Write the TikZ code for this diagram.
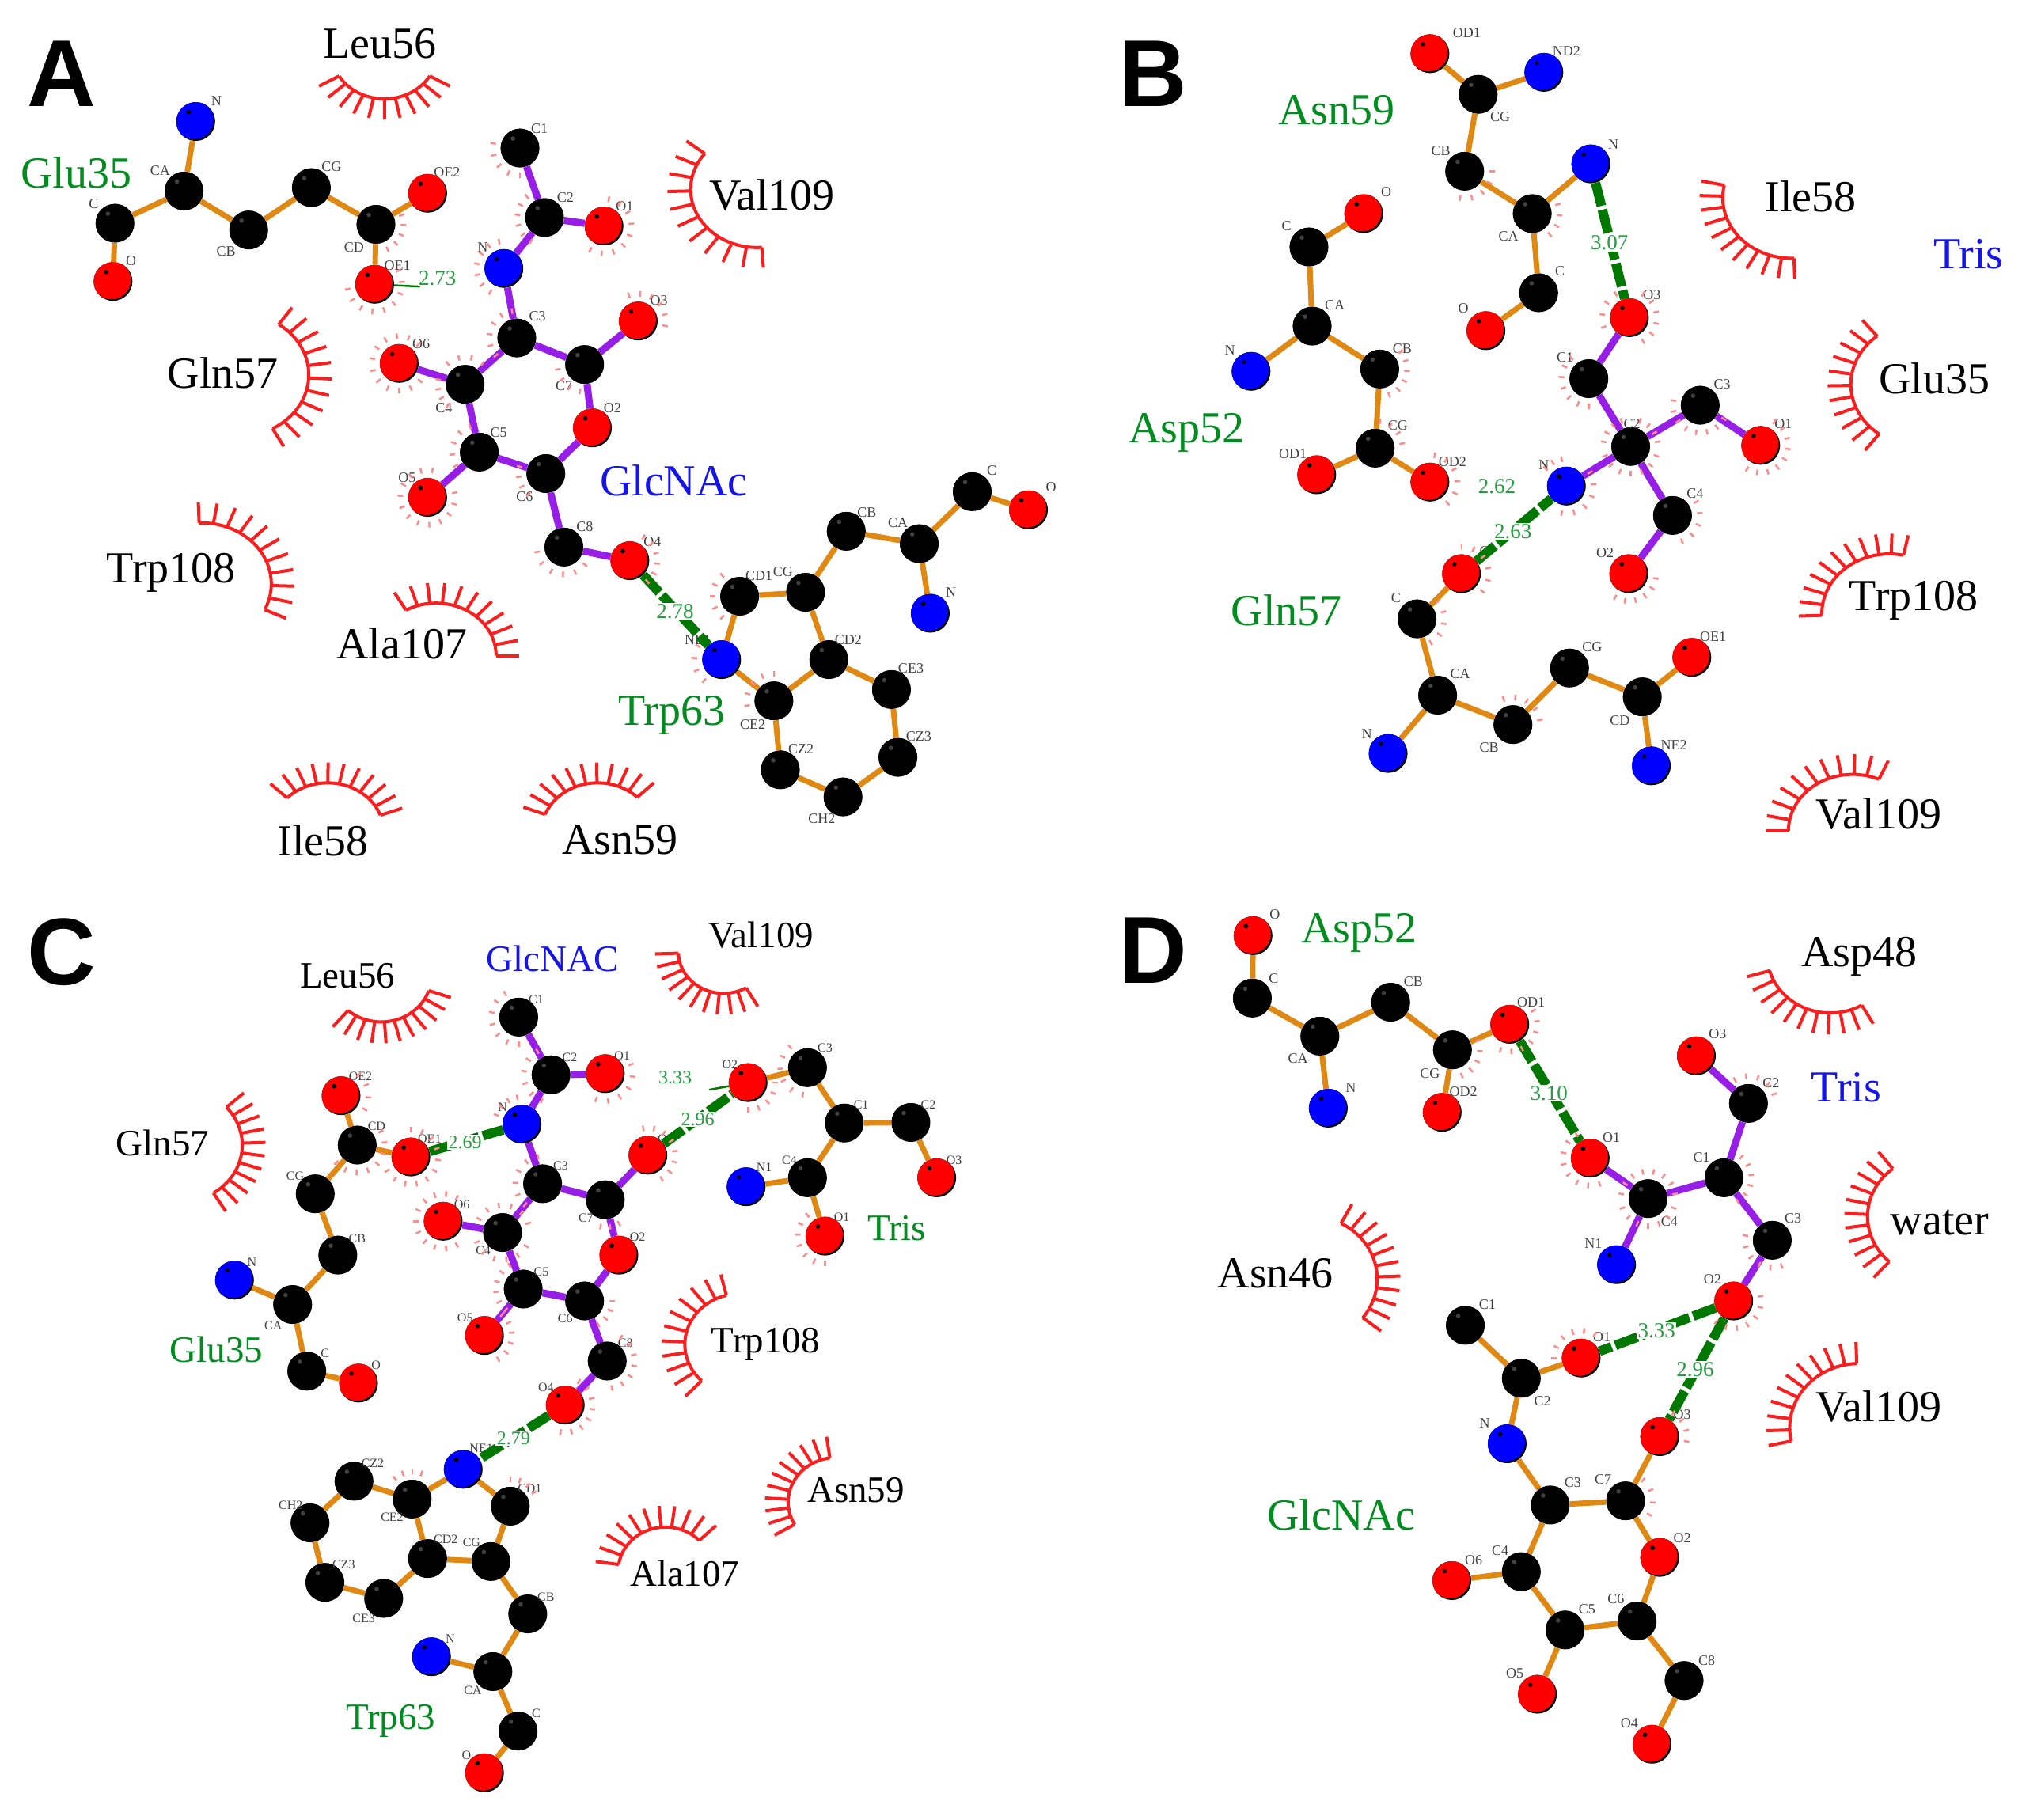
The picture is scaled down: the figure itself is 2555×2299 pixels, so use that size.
\documentclass[tikz,border=0pt]{standalone}
\usepackage{fontspec}
\setmainfont{Liberation Serif}
\newfontfamily\panelfont{Liberation Sans}
\usepackage{tikz}
\usepackage{xcolor}
\usetikzlibrary{
    calc,
    positioning
}
\definecolor{resgreen}{RGB}{0,140,30}
\definecolor{resblue}{RGB}{20,20,235}
\definecolor{bondorange}{RGB}{224,136,20}
\definecolor{bondpurple}{RGB}{150,30,230}
\definecolor{hgreen}{RGB}{0,120,0}
\definecolor{lashred}{RGB}{250,30,30}
\tikzset{
    ball/.style 2 args={circle, inner sep=0pt, minimum size=49pt, fill=black, path picture={
        \fill[#1] ([shift={(-2pt,2pt)}]path picture bounding box.center) circle (24.5pt);
        \fill[#2] ([shift={(-9pt,12pt)}]path picture bounding box.center) circle (2.8pt);}},
    cball/.style={ball={black}{black!75}},
    oball/.style={ball={red}{black}},
    nball/.style={ball={blue}{black}},
    tagfont/.style={font=\fontsize{18}{20}\selectfont},
    resfont/.style={font=\fontsize{56}{60}\selectfont},
    hfont/.style={font=\fontsize{27}{29}\selectfont},
    tag/.style={tagfont, text=black!75, inner sep=0pt},
    res/.style={resfont, inner sep=0pt},
    contact/.style={res, text=black},
    hres/.style={res, text=resgreen},
    lig/.style={res, text=resblue},
    panel/.style={font=\panelfont\bfseries\fontsize{120}{120}\selectfont, inner sep=0pt},
    chain/.style={draw=bondorange, line width=7pt},
    ligand/.style={draw=bondpurple, line width=9pt},
    hbond/.style={draw=hgreen, line width=12pt, dash pattern=on 30pt off 5pt},
    hstub/.style={draw=hgreen, line width=2.5pt},
    hlabel/.style={hfont, text=resgreen!85!white, fill=white, inner sep=1.5pt},
    hplain/.style={hfont, text=resgreen!85!white, inner sep=0pt},
    lashline/.style={draw=lashred, line width=4pt, line join=miter},
    tick/.style={draw=red!45, line width=2.5pt}
}
% ball with its small tag
\newcommand{\atom}[5]{\node[#1] (#2) at (#3) {}; \node[tag] (#2t) at (#4) {#5};}
% contact arc: cx, cy, middle angle, half span, radius
\newcommand{\lash}[5]{
    \pgfmathsetmacro\lashfrom{#3-#4}
    \pgfmathsetmacro\lashto{#3+#4}
    \draw[lashline] plot[domain=\lashfrom:\lashto, samples=25, variable=\t] ({#1+#5*cos(\t)},{#2+#5*sin(\t)});
    \foreach \i in {0,...,10} {
        \pgfmathsetmacro\ang{#3-#4+\i*2*#4/10}
        \draw[lashline] ({#1+#5*cos(\ang)},{#2+#5*sin(\ang)}) -- ({#1+(#5+36)*cos(\ang)},{#2+(#5+36)*sin(\ang)});
    }
}
% short ticks round a ball: name/from/to
\newcommand{\glow}[1]{
    \foreach \nm/\from/\to in {#1} {
        \pgfmathtruncatemacro\cnt{max(1,round((\to-\from)/24))}
        \foreach \i in {0,...,\cnt} {
            \pgfmathsetmacro\ang{\from+\i*(\to-\from)/\cnt}
            \draw[tick] ([shift={(\ang:31pt)}]\nm.center) -- ([shift={(\ang:38pt)}]\nm.center);
        }
    }
}
\begin{document}
\begin{tikzpicture}
    \useasboundingbox (0pt,0pt) rectangle (2555pt,-2299pt);

    % panel A
    \begin{scope}[x=0.8163pt, y=-0.7143pt]
        \node[panel] (apanel) at (95,130) {A};
        \node[contact] (aLeu) at (588,78) {Leu56};
        \node[contact] (aVal) at (1195,345) {Val109};
        \node[contact] (aGln) at (345,660) {Gln57};
        \node[contact] (aTrpb) at (265,1013) {Trp108};
        \node[contact] (aAla) at (622,1138) {Ala107};
        \node[contact] (aIle) at (500,1487) {Ile58};
        \node[contact] (aAsn) at (960,1485) {Asn59};
        \node[hres] (aGlu) at (118,305) {Glu35};
        \node[hres] (aTrp) at (1040,1265) {Trp63};
        \node[lig] (aGlc) at (1043,850) {GlcNAc};
        \lash{595}{94}{90}{60}{81}
        \lash{1172}{335}{152}{66}{103}
        \lash{369}{663}{3}{58}{109}
        \lash{312}{1033}{-33.5}{58.5}{108}
        \lash{675}{1160}{300}{60}{93}
        \lash{507}{1472}{282}{58}{87}
        \lash{925}{1472}{258}{57}{87}

        \atom{nball}{aN}{303,215}{335,178}{N}
        \atom{cball}{aCA}{285,338}{248,302}{CA}
        \atom{cball}{aC}{178,395}{145,360}{C}
        \atom{oball}{aO}{175,498}{203,462}{O}
        \atom{cball}{aCB}{385,407}{350,445}{CB}
        \atom{cball}{aCG}{482,332}{513,295}{CG}
        \atom{cball}{aCD}{582,397}{548,437}{CD}
        \atom{oball}{aOEb}{662,342}{692,305}{OE2}
        \atom{oball}{aOEa}{580,503}{615,470}{OE1}
        \draw[chain] (aN) edge (aCA) (aCA) edge (aC) (aC) edge (aO) (aCA) edge (aCB)
            (aCB) edge (aCG) (aCG) edge (aCD) (aCD) edge (aOEb) (aCD) edge (aOEa);

        \atom{cball}{agA}{805,262}{835,227}{C1}
        \atom{cball}{agB}{843,385}{875,350}{C2}
        \atom{oball}{agOA}{935,400}{967,365}{O1}
        \atom{nball}{agN}{780,475}{747,437}{N}
        \atom{cball}{agC}{800,598}{832,560}{C3}
        \atom{cball}{agG}{905,645}{873,682}{C7}
        \atom{oball}{agOC}{988,568}{1020,532}{O3}
        \atom{oball}{agOB}{917,757}{948,722}{O2}
        \atom{cball}{agF}{845,838}{812,878}{C6}
        \atom{cball}{agE}{742,800}{772,765}{C5}
        \atom{cball}{agD}{720,680}{687,722}{C4}
        \atom{oball}{agOF}{618,643}{652,608}{O6}
        \atom{oball}{agOE}{662,880}{630,845}{O5}
        \atom{cball}{agH}{873,968}{905,932}{C8}
        \atom{oball}{agOD}{975,992}{1010,958}{O4}
        \draw[ligand] (agA) edge (agB) (agB) edge (agOA) (agB) edge (agN) (agN) edge (agC)
            (agC) edge (agG) (agG) edge (agOC) (agG) edge (agOB) (agOB) edge (agF)
            (agF) edge (agE) (agE) edge (agD) (agD) edge (agC) (agD) edge (agOF)
            (agE) edge (agOE) (agF) edge (agH) (agH) edge (agOD);

        \atom{nball}{atNE}{1117,1167}{1080,1132}{NE1}
        \atom{cball}{atCDa}{1145,1055}{1175,1018}{CD1}
        \atom{cball}{atCG}{1247,1048}{1212,1012}{CG}
        \atom{cball}{atCDb}{1283,1167}{1313,1132}{CD2}
        \atom{cball}{atCEc}{1380,1220}{1410,1183}{CE3}
        \atom{cball}{atCZc}{1390,1340}{1422,1303}{CZ3}
        \atom{cball}{atCH}{1305,1410}{1272,1448}{CH2}
        \atom{cball}{atCZb}{1208,1362}{1240,1325}{CZ2}
        \atom{cball}{atCEb}{1198,1240}{1165,1282}{CE2}
        \atom{cball}{atCB}{1310,940}{1342,907}{CB}
        \atom{cball}{atCA}{1423,962}{1390,925}{CA}
        \atom{cball}{atC}{1505,870}{1535,833}{C}
        \atom{oball}{atO}{1592,902}{1627,862}{O}
        \atom{nball}{atN}{1440,1085}{1472,1048}{N}
        \draw[chain] (atNE) edge (atCDa) (atCDa) edge (atCG) (atCG) edge (atCDb) (atCDb) edge (atCEb)
            (atCEb) edge (atNE) (atCDb) edge (atCEc) (atCEc) edge (atCZc) (atCZc) edge (atCH)
            (atCH) edge (atCZb) (atCZb) edge (atCEb) (atCG) edge (atCB) (atCB) edge (atCA)
            (atCA) edge (atC) (atC) edge (atO) (atCA) edge (atN);

        \coordinate (aHend) at (650,507);
        \draw[hstub] (aOEa) -- (aHend);
        \node[hplain] (aHa) at (677,492) {2.73};
        \draw[hbond] (agOD) -- (atNE);
        \node[hlabel] (aHb) at (1045,1082) {2.78};
        \glow{aCD/-65/20, aOEa/-170/30, agA/170/270, agB/130/240, agOA/-120/80, agN/100/240,
            agC/100/220, agG/190/260, agOC/-10/110, agOF/45/320, agD/50/130, agD/170/230,
            agE/110/210, agOE/80/370, agF/165/230, agH/190/320, agOD/-50/60, atNE/150/230,
            atCDa/130/230, atCEb/90/190}
    \end{scope}

    % panel B
    \begin{scope}[shift={(1280pt,0pt)}, x=0.8131pt, y=-0.7143pt]
        \node[panel] (bpanel) at (217,130) {B};
        \node[hres] (bAsn) at (503,195) {Asn59};
        \node[hres] (bAsp) at (270,765) {Asp52};
        \node[hres] (bGln) at (425,1080) {Gln57};
        \node[contact] (bIle) at (1240,348) {Ile58};
        \node[lig] (bTris) at (1485,450) {Tris};
        \node[contact] (bGlu) at (1432,670) {Glu35};
        \node[contact] (bTrp) at (1400,1062) {Trp108};
        \node[contact] (bVal) at (1345,1440) {Val109};
        \lash{1210}{350}{140}{52}{107}
        \lash{1412}{680}{179}{52}{110}
        \lash{1362}{1085}{230}{52}{105}
        \lash{1305}{1470}{237}{57}{100}

        \atom{oball}{bnOD}{648,95}{705,58}{OD1}
        \atom{cball}{bnCG}{723,167}{757,207}{CG}
        \atom{nball}{bnND}{825,128}{860,90}{ND2}
        \atom{cball}{bnCB}{702,303}{665,267}{CB}
        \atom{cball}{bnCA}{807,378}{770,418}{CA}
        \atom{nball}{bnN}{898,290}{933,255}{N}
        \atom{cball}{bnC}{817,518}{850,480}{C}
        \atom{oball}{bnO}{735,585}{700,545}{O}
        \draw[chain] (bnOD) edge (bnCG) (bnCG) edge (bnND) (bnCG) edge (bnCB) (bnCB) edge (bnCA)
            (bnCA) edge (bnN) (bnCA) edge (bnC) (bnC) edge (bnO);

        \atom{cball}{bdC}{460,437}{425,400}{C}
        \atom{oball}{bdO}{545,378}{580,340}{O}
        \atom{cball}{bdCA}{465,577}{500,540}{CA}
        \atom{nball}{bdN}{370,657}{337,620}{N}
        \atom{cball}{bdCB}{570,653}{605,617}{CB}
        \atom{cball}{bdCG}{563,793}{598,753}{CG}
        \atom{oball}{bdODa}{472,840}{435,803}{OD1}
        \atom{oball}{bdODb}{648,853}{683,817}{OD2}
        \draw[chain] (bdC) edge (bdO) (bdC) edge (bdCA) (bdCA) edge (bdN) (bdCA) edge (bdCB)
            (bdCB) edge (bdCG) (bdCG) edge (bdODa) (bdCG) edge (bdODb);

        \atom{oball}{btOC}{958,562}{993,522}{O3}
        \atom{cball}{btA}{895,670}{858,632}{C1}
        \atom{cball}{btB}{960,790}{962,750}{C2}
        \atom{cball}{btC}{1068,717}{1102,680}{C3}
        \atom{oball}{btOA}{1162,788}{1197,750}{O1}
        \atom{nball}{btN}{860,860}{825,823}{N}
        \atom{cball}{btD}{1025,912}{1060,873}{C4}
        \atom{oball}{btOB}{957,1015}{920,978}{O2}
        \draw[ligand] (btOC) edge (btA) (btA) edge (btB) (btB) edge (btC) (btC) edge (btOA)
            (btB) edge (btN) (btB) edge (btD) (btD) edge (btOB);

        \atom{oball}{bqO}{697,1015}{733,975}{O}
        \atom{cball}{bqC}{628,1095}{595,1058}{C}
        \atom{cball}{bqCA}{660,1230}{695,1192}{CA}
        \atom{nball}{bqN}{583,1333}{550,1298}{N}
        \atom{cball}{bqCB}{777,1282}{740,1322}{CB}
        \atom{cball}{bqCG}{865,1182}{900,1145}{CG}
        \atom{cball}{bqCD}{978,1233}{943,1275}{CD}
        \atom{oball}{bqOE}{1055,1163}{1088,1127}{OE1}
        \atom{nball}{bqNE}{992,1355}{1027,1318}{NE2}
        \draw[chain] (bqO) edge (bqC) (bqC) edge (bqCA) (bqCA) edge (bqN) (bqCA) edge (bqCB)
            (bqCB) edge (bqCG) (bqCG) edge (bqCD) (bqCD) edge (bqOE) (bqCD) edge (bqNE);

        \draw[hbond] (bnN) -- (btOC);
        \node[hlabel] (bHa) at (927,430) {3.07};
        \draw[hbond] (bqO) -- (btN);
        \node[hlabel] (bHb) at (777,940) {2.63};
        \node[hplain] (bHc) at (752,860) {2.62};
        \glow{bnCB/-100/0, bnCA/-50/20, bdCB/-70/40, bdCG/10/80, bdODb/-50/80, btOC/-60/60,
            btOC/120/200, btA/130/270, btB/10/70, btB/110/170, btB/200/340, btC/170/330, btOA/-120/60,
            btN/-100/30, btN/100/140, btD/-70/30, btOB/-120/-10, bqO/-40/90, bqC/-60/40,
            bqCB/10/110}
    \end{scope}

    % panel C
    \begin{scope}[shift={(0pt,-1120pt)}, x=0.8163pt, y=-0.7519pt,
            resfont/.style={font=\fontsize{47}{50}\selectfont},
            tagfont/.style={font=\fontsize{16}{18}\selectfont},
            hfont/.style={font=\fontsize{24}{26}\selectfont}]
        \node[panel] (cpanel) at (95,110) {C};
        \node[contact] (cLeu) at (538,150) {Leu56};
        \node[lig] (cGlc) at (855,122) {GlcNAC};
        \node[contact] (cVal) at (1178,82) {Val109};
        \node[contact] (cGln) at (252,432) {Gln57};
        \node[hres] (cGlu) at (335,778) {Glu35};
        \node[hres] (cTris) at (1388,575) {Tris};
        \node[contact] (cTrpb) at (1185,770) {Trp108};
        \node[contact] (cAsn) at (1325,1015) {Asn59};
        \node[contact] (cAla) at (1060,1155) {Ala107};
        \node[hres] (cTrp) at (605,1403) {Trp63};
        \lash{590}{150}{75}{56}{78}
        \lash{1120}{110}{119}{59}{70}
        \lash{280}{435}{8}{50}{95}
        \lash{1145}{770}{195}{61}{85}
        \lash{1295}{1035}{206}{56}{75}
        \lash{1030}{1150}{252}{64}{73}

        \atom{oball}{ceOEb}{528,352}{558,320}{OE2}
        \atom{cball}{ceCD}{553,435}{583,403}{CD}
        \atom{oball}{ceOEa}{636,455}{665,425}{OE1}
        \atom{cball}{ceCG}{488,517}{457,487}{CG}
        \atom{cball}{ceCB}{523,620}{553,592}{CB}
        \atom{cball}{ceCA}{453,703}{423,738}{CA}
        \atom{nball}{ceN}{363,662}{390,632}{N}
        \atom{cball}{ceC}{475,815}{503,785}{C}
        \atom{oball}{ceO}{555,835}{582,805}{O}
        \draw[chain] (ceOEb) edge (ceCD) (ceCD) edge (ceOEa) (ceCD) edge (ceCG) (ceCG) edge (ceCB)
            (ceCB) edge (ceCA) (ceCA) edge (ceN) (ceCA) edge (ceC) (ceC) edge (ceO);

        \atom{cball}{cgA}{803,220}{830,190}{C1}
        \atom{cball}{cgB}{853,317}{882,287}{C2}
        \atom{oball}{cgOA}{937,315}{963,285}{O1}
        \atom{nball}{cgN}{808,400}{778,372}{N}
        \atom{cball}{cgC}{840,500}{868,470}{C3}
        \atom{cball}{cgG}{937,527}{907,557}{C7}
        \atom{oball}{cgOC}{1003,452}{1030,425}{O3}
        \atom{oball}{cgOB}{958,620}{987,590}{O2}
        \atom{cball}{cgF}{905,697}{875,727}{C6}
        \atom{cball}{cgE}{810,677}{838,648}{C5}
        \atom{cball}{cgD}{778,582}{748,612}{C4}
        \atom{oball}{cgOF}{686,563}{715,535}{O6}
        \atom{oball}{cgOE}{750,755}{720,725}{O5}
        \atom{cball}{cgH}{940,798}{968,768}{C8}
        \atom{oball}{cgOD}{875,872}{845,842}{O4}
        \draw[ligand] (cgA) edge (cgB) (cgB) edge (cgOA) (cgB) edge (cgN) (cgN) edge (cgC)
            (cgC) edge (cgG) (cgG) edge (cgOC) (cgG) edge (cgOB) (cgOB) edge (cgF)
            (cgF) edge (cgE) (cgE) edge (cgD) (cgD) edge (cgC) (cgD) edge (cgOF)
            (cgE) edge (cgOE) (cgF) edge (cgH) (cgH) edge (cgOD);

        \atom{nball}{ctNE}{717,980}{745,945}{NE1}
        \atom{cball}{ctCDa}{790,1042}{820,1012}{CD1}
        \atom{cball}{ctCG}{760,1135}{730,1103}{CG}
        \atom{cball}{ctCDb}{662,1130}{690,1098}{CD2}
        \atom{cball}{ctCEb}{638,1030}{607,1060}{CE2}
        \atom{cball}{ctCZb}{548,1000}{577,970}{CZ2}
        \atom{cball}{ctCH}{480,1070}{450,1040}{CH2}
        \atom{cball}{ctCZc}{503,1170}{532,1140}{CZ3}
        \atom{cball}{ctCEc}{594,1197}{563,1230}{CE3}
        \atom{cball}{ctCB}{817,1223}{845,1195}{CB}
        \atom{cball}{ctCA}{763,1320}{732,1352}{CA}
        \atom{nball}{ctN}{668,1295}{697,1265}{N}
        \atom{cball}{ctC}{802,1420}{830,1390}{C}
        \atom{oball}{ctO}{750,1490}{722,1460}{O}
        \draw[chain] (ctNE) edge (ctCDa) (ctCDa) edge (ctCG) (ctCG) edge (ctCDb) (ctCDb) edge (ctCEb)
            (ctCEb) edge (ctNE) (ctCEb) edge (ctCZb) (ctCZb) edge (ctCH) (ctCH) edge (ctCZc)
            (ctCZc) edge (ctCEc) (ctCEc) edge (ctCDb) (ctCG) edge (ctCB) (ctCB) edge (ctCA)
            (ctCA) edge (ctN) (ctCA) edge (ctC) (ctC) edge (ctO);

        \atom{oball}{csOB}{1158,330}{1130,300}{O2}
        \atom{cball}{csC}{1250,305}{1277,272}{C3}
        \atom{cball}{csA}{1307,398}{1333,367}{C1}
        \atom{cball}{csB}{1410,397}{1437,367}{C2}
        \atom{oball}{csOC}{1450,490}{1477,460}{O3}
        \atom{cball}{csD}{1250,490}{1222,460}{C4}
        \atom{nball}{csN}{1155,505}{1183,473}{N1}
        \atom{oball}{csOA}{1277,588}{1303,556}{O1}
        \draw[chain] (csOB) edge (csC) (csC) edge (csA) (csA) edge (csB) (csB) edge (csOC)
            (csA) edge (csD) (csD) edge (csN) (csD) edge (csOA);

        \draw[hbond] (ceOEa) -- (cgN);
        \node[hlabel] (cHa) at (720,430) {2.69};
        \draw[hbond] (cgOC) -- (csOB);
        \node[hlabel] (cHb) at (1080,392) {2.96};
        \draw[hbond] (cgOD) -- (ctNE);
        \node[hlabel] (cHc) at (795,928) {2.79};
        \node[hplain] (cHd) at (1045,322) {3.33};
        \coordinate (cHend) at (1098,342);
        \draw[hstub] (csOB) -- (cHend);
        \glow{ceOEb/-30/50, ceCD/-140/30, ceOEa/-150/90, cgA/120/270, cgB/120/250, cgOA/-110/20,
            cgN/100/160, cgC/100/230, cgG/-100/-60, cgOC/-60/100, cgOF/60/300, cgD/20/150,
            cgD/200/330, cgE/120/230, cgOE/-60/50, cgF/-60/0, cgH/-80/60, cgOD/-100/60,
            ctCEb/70/130, ctCDa/30/90, csOA/130/270, csOB/-90/0, csC/130/260}
    \end{scope}

    % panel D
    \begin{scope}[shift={(1280pt,-1120pt)}, x=0.8131pt, y=-0.7519pt]
        \node[panel] (dpanel) at (217,108) {D};
        \node[hres] (dAsp) at (538,78) {Asp52};
        \node[contact] (dAspb) at (1315,118) {Asp48};
        \node[lig] (dTris) at (1295,338) {Tris};
        \node[contact] (dWat) at (1440,565) {water};
        \node[contact] (dAsn) at (408,650) {Asn46};
        \node[contact] (dVal) at (1345,875) {Val109};
        \node[hres] (dGlc) at (510,1057) {GlcNAc};
        \lash{1270}{115}{112}{52}{98}
        \lash{1430}{555}{182}{50}{102}
        \lash{460}{660}{-12}{50}{106}
        \lash{1315}{910}{218}{50}{108}

        \atom{oball}{ddO}{373,83}{407,47}{O}
        \atom{cball}{ddC}{372,188}{405,155}{C}
        \atom{cball}{ddCA}{477,252}{443,290}{CA}
        \atom{nball}{ddN}{490,373}{525,338}{N}
        \atom{cball}{ddCB}{587,195}{622,160}{CB}
        \atom{cball}{ddCG}{683,275}{648,315}{CG}
        \atom{oball}{ddODb}{667,380}{700,345}{OD2}
        \atom{oball}{ddODa}{772,232}{805,195}{OD1}
        \draw[chain] (ddO) edge (ddC) (ddC) edge (ddCA) (ddCA) edge (ddN) (ddCA) edge (ddCB)
            (ddCB) edge (ddCG) (ddCG) edge (ddODb) (ddCG) edge (ddODa);

        \atom{oball}{dtOA}{897,457}{930,422}{O1}
        \atom{cball}{dtD}{987,525}{1020,563}{C4}
        \atom{nball}{dtN}{938,636}{902,600}{N1}
        \atom{cball}{dtA}{1105,490}{1070,455}{C1}
        \atom{cball}{dtB}{1143,365}{1178,330}{C2}
        \atom{oball}{dtOC}{1062,285}{1095,248}{O3}
        \atom{cball}{dtC}{1180,595}{1212,558}{C3}
        \atom{oball}{dtOB}{1120,697}{1087,660}{O2}
        \draw[ligand] (dtOA) edge (dtD) (dtD) edge (dtN) (dtD) edge (dtA) (dtA) edge (dtB)
            (dtB) edge (dtOC) (dtA) edge (dtC) (dtC) edge (dtOB);

        \atom{cball}{dgA}{703,738}{737,703}{C1}
        \atom{cball}{dgB}{790,827}{823,865}{C2}
        \atom{oball}{dgOA}{883,793}{915,757}{O1}
        \atom{nball}{dgN}{768,937}{733,903}{N}
        \atom{cball}{dgC}{835,1040}{870,1002}{C3}
        \atom{cball}{dgG}{952,1033}{917,997}{C7}
        \atom{oball}{dgOC}{1005,925}{1040,888}{O3}
        \atom{oball}{dgOB}{1005,1128}{1040,1095}{O2}
        \atom{cball}{dgF}{970,1235}{937,1198}{C6}
        \atom{cball}{dgE}{858,1250}{892,1215}{C5}
        \atom{cball}{dgD}{790,1152}{757,1117}{C4}
        \atom{oball}{dgOF}{682,1167}{716,1132}{O6}
        \atom{oball}{dgOE}{815,1358}{780,1323}{O5}
        \atom{cball}{dgH}{1043,1335}{1078,1302}{C8}
        \atom{oball}{dgOD}{993,1442}{958,1407}{O4}
        \draw[chain] (dgA) edge (dgB) (dgB) edge (dgOA) (dgB) edge (dgN) (dgN) edge (dgC)
            (dgC) edge (dgG) (dgG) edge (dgOC) (dgG) edge (dgOB) (dgOB) edge (dgF)
            (dgF) edge (dgE) (dgE) edge (dgD) (dgD) edge (dgC) (dgD) edge (dgOF)
            (dgE) edge (dgOE) (dgF) edge (dgH) (dgH) edge (dgOD);

        \draw[hbond] (ddODa) -- (dtOA);
        \node[hlabel] (dHa) at (833,348) {3.10};
        \draw[hbond] (dtOB) -- (dgOA);
        \node[hlabel] (dHb) at (1000,747) {3.33};
        \draw[hbond] (dtOB) -- (dgOC);
        \node[hlabel] (dHc) at (1060,812) {2.96};
        \glow{ddCG/-70/20, ddODa/-110/30, dtOA/120/290, dtD/10/170, dtD/200/340, dtA/-60/50,
            dtB/20/120, dtC/170/290, dtOB/-130/10, dgOA/60/180, dgOC/-10/60, dgG/-30/50}
    \end{scope}
\end{tikzpicture}
\end{document}
